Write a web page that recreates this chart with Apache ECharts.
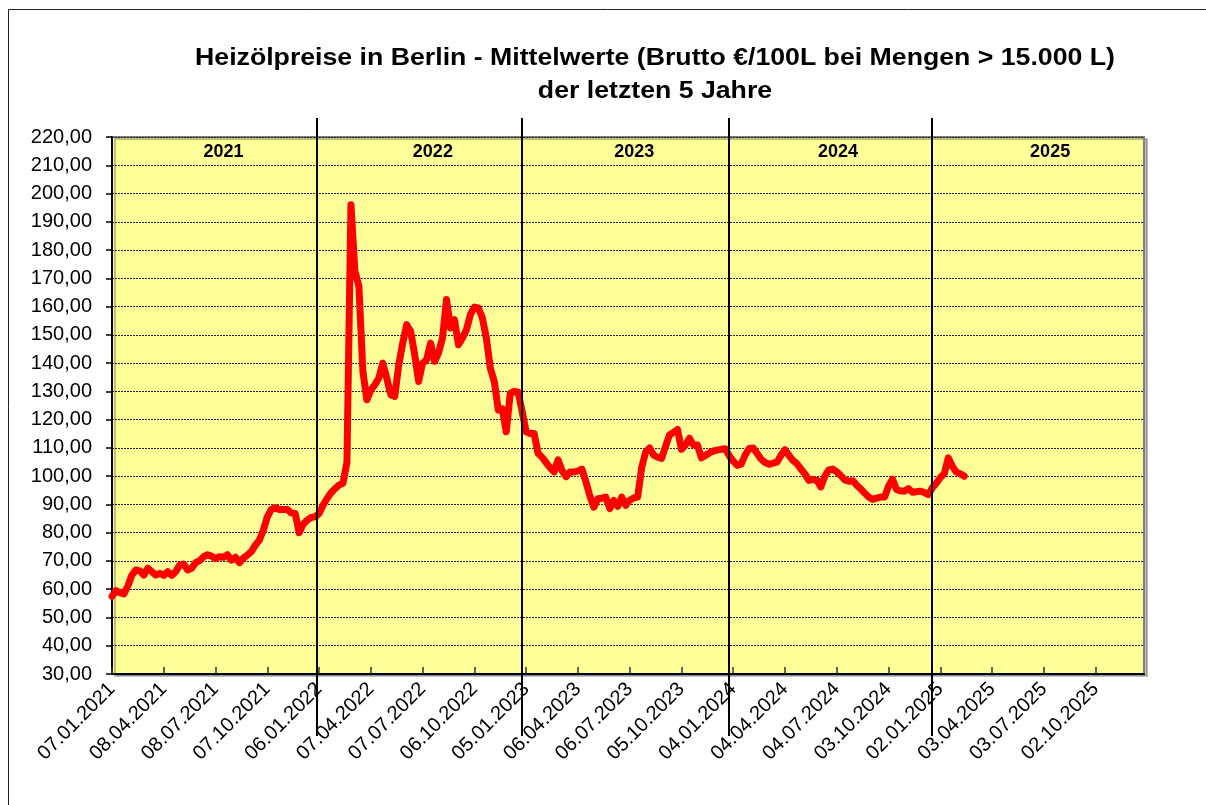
<!DOCTYPE html>
<html>
<head>
<meta charset="utf-8">
<script src="https://cdn.jsdelivr.net/npm/echarts@6/dist/echarts.min.js"></script>
<style>
  html, body { margin: 0; padding: 0; background: #fff; }
  #chart { width: 1206px; height: 805px; }
</style>
</head>
<body>
<div id="chart"></div>
<script>
// weekly mean prices (Brutto €/100L), first week 07.01.2021
const startDate = Date.UTC(2021, 0, 7);
const prices2021 = [57.5, 59.5, 58.8, 58.3, 61.2, 65, 66.8, 66.5, 65, 67.4, 66.2, 65, 65.6, 64.9, 66.2, 64.9, 66.2, 68.5, 68.9, 66.8, 67.4, 69.4, 70.1, 71.5, 72.2, 71.7, 70.8, 71.5, 71.3, 72.2, 70.3, 71.3, 69.4, 71, 72.1, 73.3, 75.6, 77.4, 80.9, 85.6, 88.2, 88.9, 88.2, 88.2, 88.2, 87, 86.8, 80, 83, 84.4, 85.4, 85.6];
const prices2022 = [86.8, 89.7, 92.1, 94.1, 95.6, 96.8, 97.5, 105, 196, 172.5, 167.2, 137, 127, 130.5, 132.3, 134.7, 140, 134.7, 128.8, 128.2, 139.4, 147.1, 153.6, 151.2, 143, 133.5, 140, 141.2, 147.1, 140.6, 143.6, 148.9, 162.5, 152.4, 155.4, 146.5, 148.9, 151.8, 157.2, 159.8, 159.5, 156, 148.9, 138.2, 133.5, 123.4, 123.8, 115.7, 129.3, 130, 129.7, 122.8];
const prices2023 = [115.7, 115.1, 115.1, 108, 106.7, 104.8, 103, 101.5, 105.8, 102, 99.8, 101.5, 101.5, 101.8, 102.5, 98, 93, 89, 92, 92.2, 92.6, 88.5, 91.4, 89.3, 92.6, 89.7, 91.5, 92.3, 92.6, 103, 108.5, 110, 107.5, 106.7, 106.3, 110.5, 114.6, 115.5, 116.5, 109.5, 111, 113.4, 111, 111, 106.5, 107.3, 108.2, 108.9, 109.2, 109.5, 109.7, 107.2];
const prices2024 = [105.3, 103.8, 104.3, 107.5, 109.8, 110, 108, 106, 104.8, 104.2, 104.6, 105, 107.4, 109.4, 107.3, 105.5, 104.4, 102.5, 100.8, 98.5, 98.9, 98.5, 96.2, 100, 102.2, 102.5, 101.5, 100.2, 98.7, 98.2, 98.4, 96.8, 95.5, 94, 92.6, 91.8, 92.2, 92.6, 92.6, 96.5, 98.9, 95.3, 94.8, 94.7, 95.6, 94.3, 94.5, 94.7, 94.2, 93.5, 95.9, 97.5];
const prices2025 = [99.5, 100.9, 106.5, 103.5, 101.5, 100.8, 100.0];

const years = ['2021', '2022', '2023', '2024', '2025'];
const yearLabelDates = ['2021-07-22', '2022-07-25', '2023-07-14', '2024-07-06', '2025-07-14'];
const separatorDates = ['2022-01-03', '2022-12-29', '2023-12-27', '2024-12-19'];

const title1 = 'Heizölpreise in Berlin - Mittelwerte (Brutto €/100L bei Mengen > 15.000 L)';
const title2 = 'der letzten 5 Jahre';

const DAY = 86400000;
const FONT = "'Liberation Sans', Arial, sans-serif";

function dayOf(s) { return Math.round((Date.parse(s + 'T00:00:00Z') - startDate) / DAY); }
function pad(n) { return n < 10 ? '0' + n : '' + n; }
function dateLabel(d) {
  const t = new Date(startDate + d * DAY);
  return pad(t.getUTCDate()) + '.' + pad(t.getUTCMonth() + 1) + '.' + t.getUTCFullYear();
}

const allPrices = [].concat(prices2021, prices2022, prices2023, prices2024, prices2025);
const seriesData = allPrices.map((v, i) => [i * 7, v]);

const chart = echarts.init(document.getElementById('chart'));
chart.setOption({
  animation: false,
  backgroundColor: '#fff',
  grid: {
    left: 112, top: 137, right: 62, bottom: 131,
    show: true,
    backgroundColor: '#FFFF99',
    borderColor: '#808080',
    borderWidth: 2,
    shadowColor: 'rgba(0,0,0,0.25)',
    shadowOffsetX: 3,
    shadowOffsetY: 2
  },
  xAxis: {
    type: 'value',
    min: 0,
    max: 1814,
    interval: 91,
    axisLine: { show: true, onZero: false, lineStyle: { color: '#000', width: 2 } },
    axisTick: { show: true, inside: true, length: 7, lineStyle: { color: '#333', width: 1.5 } },
    splitLine: { show: false },
    axisLabel: {
      rotate: 45,
      margin: 12,
      fontFamily: FONT,
      fontSize: 20,
      color: '#000',
      showMaxLabel: false,
      formatter: v => dateLabel(v)
    }
  },
  yAxis: {
    type: 'value',
    min: 30,
    max: 220,
    interval: 10,
    axisLine: { show: true, lineStyle: { color: '#000', width: 2 } },
    axisTick: { show: true, length: 6, lineStyle: { color: '#000', width: 1.5 } },
    splitLine: { show: true, lineStyle: { color: '#222', width: 1, type: [2, 1] } },
    axisLabel: {
      margin: 20,
      fontFamily: FONT,
      fontSize: 20,
      color: '#000',
      formatter: v => v.toFixed(2).replace('.', ',')
    }
  },
  series: [{
    type: 'line',
    data: seriesData,
    showSymbol: false,
    lineStyle: { color: '#FF0000', width: 7, join: 'round', cap: 'round' },
    z: 3
  }]
});

// decorations placed through the axes' own scales
const topY = chart.convertToPixel({ yAxisIndex: 0 }, 220);
const graphics = [{
  type: 'rect',
  shape: { x: 8.5, y: 9.5, width: 1400, height: 1000 },
  style: { fill: null, stroke: '#222', lineWidth: 1 },
  silent: true
}];
// title, slightly widened like the original export
[title1, title2].forEach((t, i) => {
  graphics.push({
    type: 'text',
    x: 655,
    y: 59 + i * 33,
    scaleX: 1.16,
    style: {
      text: t, fontFamily: FONT, fontSize: 23, fontWeight: 'bold', fill: '#000',
      align: 'center', verticalAlign: 'middle'
    }
  });
});
separatorDates.forEach(s => {
  const x = Math.round(chart.convertToPixel({ xAxisIndex: 0 }, dayOf(s)));
  graphics.push({
    type: 'line',
    shape: { x1: x, y1: topY - 19, x2: x, y2: topY + 599 },
    style: { stroke: '#000', lineWidth: 2 },
    z: 10
  });
});
years.forEach((y, i) => {
  const x = chart.convertToPixel({ xAxisIndex: 0 }, dayOf(yearLabelDates[i]));
  graphics.push({
    type: 'text',
    x: x,
    y: topY + 15,
    style: {
      text: y, fontFamily: FONT, fontSize: 18, fontWeight: 'bold', fill: '#000',
      align: 'center', verticalAlign: 'middle'
    },
    z: 10
  });
});
chart.setOption({ graphic: graphics });
</script>
</body>
</html>
